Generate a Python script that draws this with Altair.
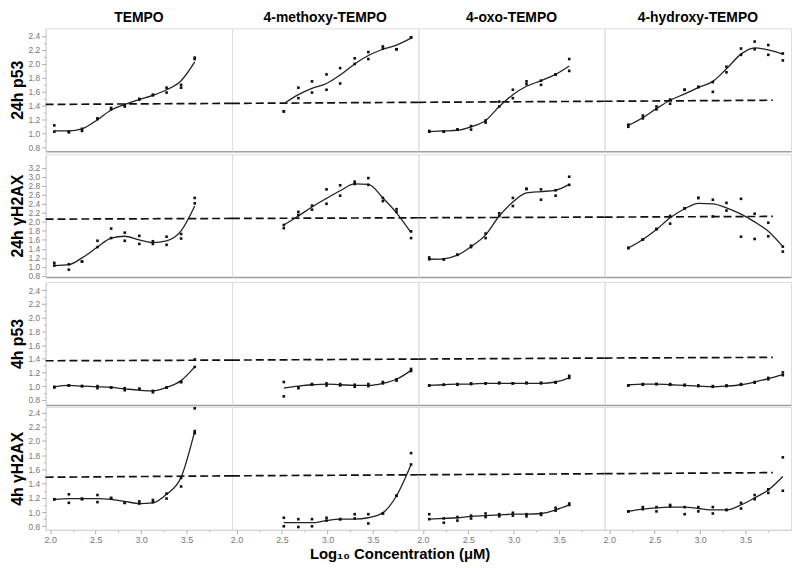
import altair as alt
import pandas as pd

FONT = "Liberation Sans"
COLUMNS = ["TEMPO", "4-methoxy-TEMPO", "4-oxo-TEMPO", "4-hydroxy-TEMPO"]
ROWS = ["24h p53", "24h γH2AX", "4h p53", "4h γH2AX"]
X_TITLE = "Log₁₀ Concentration (μM)"

# major ticks are labelled, minor ones are drawn short without a label
X_TICKS = [2.0, 2.25, 2.5, 2.75, 3.0, 3.25, 3.5, 3.75]
Y_TICKS_STD = [0.8, 0.9, 1.0, 1.1, 1.2, 1.3, 1.4, 1.5, 1.6, 1.7, 1.8, 1.9,
               2.0, 2.1, 2.2, 2.3, 2.4]
Y_TICKS_H2AX24 = [0.8, 1.0, 1.2, 1.4, 1.6, 1.8, 2.0, 2.2, 2.4, 2.6, 2.8, 3.0, 3.2]
Y_DOMAINS = [[0.75, 2.51], [0.775, 3.5], [0.725, 2.52], [0.75, 2.48]]

DOSE_TEMPO = [2.045, 2.205, 2.35, 2.52, 2.67, 2.82, 2.98, 3.13, 3.28, 3.44, 3.59]
DOSE_METHOXY = [2.52, 2.68, 2.83, 2.99, 3.14, 3.30, 3.45, 3.61, 3.76, 3.92]
DOSE_OXO = [2.07, 2.23, 2.38, 2.53, 2.69, 2.84, 2.99, 3.14, 3.30, 3.46, 3.61]
DOSE_HYDROXY = [2.21, 2.37, 2.52, 2.67, 2.83, 2.98, 3.14, 3.29, 3.45, 3.60, 3.75, 3.91]

# dashed threshold line, values at the panel borders (left to right)
THR_P53_24 = [1.42, 1.435, 1.45, 1.465, 1.48]
THR_H2AX_24 = [2.06, 2.075, 2.09, 2.105, 2.12]
THR_P53_4 = [1.37, 1.38, 1.395, 1.41, 1.42]
THR_H2AX_4 = [1.49, 1.51, 1.525, 1.54, 1.555]

# ---- 24h p53 ----
P53_24_TEMPO_A = [1.12, 1.02, 1.07, 1.22, 1.37, 1.41, 1.50, 1.56, 1.66, 1.70, 2.09]
P53_24_TEMPO_B = [1.03, 1.03, 1.04, 1.21, 1.35, 1.39, 1.49, 1.55, 1.59, 1.66, 2.07]
P53_24_TEMPO_FIT = [1.04, 1.04, 1.07, 1.20, 1.34, 1.42, 1.49, 1.55, 1.63, 1.76, 2.03]

P53_24_METHOXY_A = [1.32, 1.66, 1.75, 1.85, 1.94, 2.08, 2.17, 2.25, 2.21, 2.38]
P53_24_METHOXY_B = [1.32, 1.51, 1.59, 1.63, 1.72, 2.00, 2.07, 2.22, 2.21, 2.38]
P53_24_METHOXY_FIT = [1.43, 1.56, 1.65, 1.72, 1.84, 2.00, 2.12, 2.21, 2.27, 2.37]

P53_24_OXO_A = [1.03, 1.03, 1.06, 1.11, 1.19, 1.46, 1.63, 1.75, 1.76, 1.85, 2.07]
P53_24_OXO_B = [1.04, 1.03, 1.06, 1.06, 1.16, 1.39, 1.51, 1.71, 1.70, 1.85, 1.90]
P53_24_OXO_FIT = [1.03, 1.04, 1.05, 1.10, 1.19, 1.39, 1.56, 1.68, 1.76, 1.85, 1.97]

P53_24_HYDROXY_A = [1.13, 1.26, 1.39, 1.49, 1.63, 1.67, 1.74, 1.96, 2.22, 2.32, 2.27, 2.15]
P53_24_HYDROXY_B = [1.10, 1.22, 1.35, 1.43, 1.63, 1.67, 1.60, 1.88, 2.13, 2.21, 2.13, 2.05]
P53_24_HYDROXY_FIT = [1.12, 1.23, 1.36, 1.48, 1.57, 1.66, 1.75, 1.93, 2.14, 2.23, 2.20, 2.14]

# ---- 24h gH2AX ----
H2AX_24_TEMPO_A = [1.09, 1.06, 1.12, 1.58, 1.85, 1.76, 1.69, 1.57, 1.67, 1.73, 2.53]
H2AX_24_TEMPO_B = [1.03, 0.94, 1.12, 1.44, 1.64, 1.58, 1.51, 1.51, 1.49, 1.63, 2.41]
H2AX_24_TEMPO_FIT = [1.03, 1.05, 1.20, 1.44, 1.64, 1.68, 1.60, 1.54, 1.58, 1.80, 2.35]

H2AX_24_METHOXY_A = [1.93, 2.22, 2.36, 2.72, 2.81, 2.89, 2.97, 2.53, 2.28, 1.79]
H2AX_24_METHOXY_B = [1.86, 2.15, 2.27, 2.40, 2.58, 2.84, 2.82, 2.46, 2.22, 1.64]
H2AX_24_METHOXY_FIT = [1.93, 2.13, 2.33, 2.52, 2.69, 2.84, 2.83, 2.53, 2.20, 1.76]

H2AX_24_OXO_A = [1.21, 1.17, 1.27, 1.47, 1.74, 2.19, 2.53, 2.73, 2.72, 2.70, 3.00]
H2AX_24_OXO_B = [1.17, 1.17, 1.27, 1.44, 1.64, 2.13, 2.35, 2.73, 2.49, 2.58, 2.82]
H2AX_24_OXO_FIT = [1.17, 1.18, 1.26, 1.45, 1.71, 2.13, 2.44, 2.64, 2.67, 2.70, 2.83]

H2AX_24_HYDROXY_A = [1.42, 1.61, 1.84, 2.13, 2.30, 2.53, 2.49, 2.42, 2.51, 2.18, 1.98, 1.45]
H2AX_24_HYDROXY_B = [1.42, 1.61, 1.84, 1.96, 2.30, 2.53, 2.12, 2.25, 1.67, 1.62, 1.68, 1.34]
H2AX_24_HYDROXY_FIT = [1.42, 1.61, 1.83, 2.09, 2.29, 2.41, 2.40, 2.31, 2.17, 2.00, 1.79, 1.45]

# ---- 4h p53 ----
P53_4_TEMPO_A = [0.99, 1.01, 1.00, 1.00, 0.98, 0.97, 0.96, 0.93, 0.98, 1.06, 1.39]
P53_4_TEMPO_B = [0.98, 1.01, 1.00, 0.97, 0.98, 0.94, 0.96, 0.91, 0.98, 1.06, 1.28]
P53_4_TEMPO_FIT = [0.99, 1.01, 1.00, 0.99, 0.98, 0.96, 0.94, 0.93, 0.98, 1.08, 1.28]

P53_4_METHOXY_A = [1.06, 0.98, 1.02, 1.04, 1.01, 0.99, 1.00, 1.04, 1.10, 1.25]
P53_4_METHOXY_B = [0.85, 0.97, 1.03, 1.01, 1.03, 1.02, 1.03, 1.06, 1.08, 1.22]
P53_4_METHOXY_FIT = [0.97, 1.00, 1.02, 1.03, 1.02, 1.01, 1.01, 1.04, 1.10, 1.23]

P53_4_OXO_A = [1.01, 1.02, 1.03, 1.04, 1.04, 1.05, 1.04, 1.04, 1.05, 1.05, 1.15]
P53_4_OXO_B = [1.01, 1.02, 1.02, 1.03, 1.04, 1.04, 1.04, 1.05, 1.04, 1.06, 1.12]
P53_4_OXO_FIT = [1.01, 1.02, 1.03, 1.03, 1.04, 1.04, 1.04, 1.04, 1.04, 1.06, 1.12]

P53_4_HYDROXY_A = [1.01, 1.03, 1.03, 1.02, 1.02, 1.01, 1.00, 1.00, 1.02, 1.06, 1.12, 1.20]
P53_4_HYDROXY_B = [1.01, 1.02, 1.03, 1.03, 1.01, 1.00, 0.99, 1.01, 1.03, 1.05, 1.10, 1.16]
P53_4_HYDROXY_FIT = [1.02, 1.03, 1.03, 1.02, 1.01, 1.00, 0.99, 1.00, 1.02, 1.06, 1.11, 1.17]

# ---- 4h gH2AX ----
H2AX_4_TEMPO_A = [1.18, 1.25, 1.19, 1.24, 1.20, 1.13, 1.15, 1.17, 1.26, 1.48, 2.14]
H2AX_4_TEMPO_B = [1.18, 1.13, 1.18, 1.14, 1.19, 1.13, 1.12, 1.14, 1.19, 1.36, 2.11]
H2AX_4_TEMPO_EXTRA_X = [3.59]
H2AX_4_TEMPO_EXTRA_Y = [2.46]
H2AX_4_TEMPO_FIT = [1.18, 1.19, 1.19, 1.19, 1.18, 1.15, 1.12, 1.13, 1.25, 1.49, 2.14]

H2AX_4_METHOXY_A = [0.92, 0.90, 0.90, 0.92, 0.90, 0.97, 0.97, 0.98, 1.23, 1.83]
H2AX_4_METHOXY_B = [0.80, 0.79, 0.80, 0.88, 0.90, 0.91, 0.84, 0.98, 1.23, 1.67]
H2AX_4_METHOXY_FIT = [0.85, 0.85, 0.85, 0.88, 0.90, 0.90, 0.92, 0.99, 1.23, 1.67]

H2AX_4_OXO_A = [0.97, 0.91, 0.93, 0.95, 0.98, 0.97, 0.99, 0.97, 0.98, 1.06, 1.12]
H2AX_4_OXO_B = [0.90, 0.85, 0.88, 0.91, 0.93, 0.94, 0.95, 0.94, 0.96, 1.02, 1.10]
H2AX_4_OXO_FIT = [0.90, 0.91, 0.92, 0.94, 0.95, 0.96, 0.97, 0.97, 0.98, 1.03, 1.10]

H2AX_4_HYDROXY_A = [1.01, 1.07, 1.07, 1.10, 1.07, 1.07, 1.07, 1.03, 1.13, 1.24, 1.32, 1.77]
H2AX_4_HYDROXY_B = [1.01, 1.04, 1.01, 1.08, 0.97, 1.01, 0.98, 1.03, 1.05, 1.18, 1.27, 1.30]
H2AX_4_HYDROXY_FIT = [1.01, 1.04, 1.06, 1.07, 1.07, 1.05, 1.03, 1.03, 1.10, 1.20, 1.31, 1.50]

DOSES = [DOSE_TEMPO, DOSE_METHOXY, DOSE_OXO, DOSE_HYDROXY]
THRESH = [THR_P53_24, THR_H2AX_24, THR_P53_4, THR_H2AX_4]
Y_TICKS = [Y_TICKS_STD, Y_TICKS_H2AX24, Y_TICKS_STD, Y_TICKS_STD]
DATA = [
    [(P53_24_TEMPO_A, P53_24_TEMPO_B, P53_24_TEMPO_FIT),
     (P53_24_METHOXY_A, P53_24_METHOXY_B, P53_24_METHOXY_FIT),
     (P53_24_OXO_A, P53_24_OXO_B, P53_24_OXO_FIT),
     (P53_24_HYDROXY_A, P53_24_HYDROXY_B, P53_24_HYDROXY_FIT)],
    [(H2AX_24_TEMPO_A, H2AX_24_TEMPO_B, H2AX_24_TEMPO_FIT),
     (H2AX_24_METHOXY_A, H2AX_24_METHOXY_B, H2AX_24_METHOXY_FIT),
     (H2AX_24_OXO_A, H2AX_24_OXO_B, H2AX_24_OXO_FIT),
     (H2AX_24_HYDROXY_A, H2AX_24_HYDROXY_B, H2AX_24_HYDROXY_FIT)],
    [(P53_4_TEMPO_A, P53_4_TEMPO_B, P53_4_TEMPO_FIT),
     (P53_4_METHOXY_A, P53_4_METHOXY_B, P53_4_METHOXY_FIT),
     (P53_4_OXO_A, P53_4_OXO_B, P53_4_OXO_FIT),
     (P53_4_HYDROXY_A, P53_4_HYDROXY_B, P53_4_HYDROXY_FIT)],
    [(H2AX_4_TEMPO_A, H2AX_4_TEMPO_B, H2AX_4_TEMPO_FIT),
     (H2AX_4_METHOXY_A, H2AX_4_METHOXY_B, H2AX_4_METHOXY_FIT),
     (H2AX_4_OXO_A, H2AX_4_OXO_B, H2AX_4_OXO_FIT),
     (H2AX_4_HYDROXY_A, H2AX_4_HYDROXY_B, H2AX_4_HYDROXY_FIT)],
]

X_DOMAIN = [1.95, 4.0]
PANEL_W = 188
PANEL_H = 124

Y_MINOR = "round(datum.value * 10) % 2 != 0"
X_MINOR = "round(datum.value * 4) % 2 != 0"


def make_panel(r, c):
    dose = DOSES[c]
    a, b, fit = DATA[r][c]
    xs = list(dose) + list(dose)
    ys = list(a) + list(b)
    if r == 3 and c == 0:
        xs += H2AX_4_TEMPO_EXTRA_X
        ys += H2AX_4_TEMPO_EXTRA_Y
    pts = pd.DataFrame({"x": xs, "y": ys})
    fit_df = pd.DataFrame({"x": dose, "y": fit})
    thr = THRESH[r]
    x_end = 3.8 if c == 3 else X_DOMAIN[1]
    thr_df = pd.DataFrame({"x": [X_DOMAIN[0]], "x2": [x_end],
                           "y": [thr[c]], "y2": [thr[c + 1]]})

    xs_scale = alt.Scale(domain=X_DOMAIN, nice=False, zero=False)
    ys_scale = alt.Scale(domain=Y_DOMAINS[r], nice=False, zero=False)

    if r == 3:
        x_axis = alt.Axis(values=X_TICKS, title=None, grid=False,
                          labelExpr=f"{X_MINOR} ? '' : format(datum.value, '.1f')",
                          labelFontSize=9, labelColor="#777", labelFont=FONT,
                          tickColor="#aaa",
                          tickSize={"condition": {"test": X_MINOR, "value": 2}, "value": 4},
                          labelPadding=2, domainColor="#d0d0d0", labelFlush=False,
                          labelOverlap=False)
    else:
        x_axis = alt.Axis(labels=False, ticks=False, title=None, grid=False,
                          domainColor="#a0a0a0", domainWidth=1.5)
    if c == 0:
        y_axis = alt.Axis(values=Y_TICKS[r], title=ROWS[r], grid=False,
                          labelExpr=f"{Y_MINOR} ? '' : format(datum.value, '.1f')",
                          labelFontSize=8.5, labelColor="#777", labelFont=FONT,
                          tickColor="#aaa",
                          tickSize={"condition": {"test": Y_MINOR, "value": 2}, "value": 4},
                          labelPadding=2, domainColor="#d0d0d0", labelOverlap=False,
                          labelFlush=False, titleFont=FONT, titleFontSize=16,
                          titleFontWeight="bold", titleColor="#000",
                          titlePadding=3)
    else:
        y_axis = None

    xenc = alt.X("x:Q", scale=xs_scale, axis=x_axis)
    yenc = alt.Y("y:Q", scale=ys_scale, axis=y_axis)

    rule = alt.Chart(thr_df).mark_rule(color="#111", strokeWidth=1.7,
                                       strokeDash=[8, 4]).encode(
        x=xenc, x2="x2:Q", y=yenc, y2="y2:Q")
    line = alt.Chart(fit_df).mark_line(color="#222", strokeWidth=1.3,
                                       interpolate="monotone").encode(x=xenc, y=yenc)
    dots = alt.Chart(pts).mark_square(size=7, color="#111", opacity=1).encode(
        x=xenc, y=yenc)
    layer = alt.layer(rule, line, dots).properties(width=PANEL_W, height=PANEL_H)
    if r == 0:
        layer = layer.properties(title=alt.TitleParams(
            COLUMNS[c], fontSize=14, fontWeight="bold", font=FONT, color="#000",
            anchor="middle", offset=3))
    return layer


rows = []
for r in range(4):
    rows.append(alt.hconcat(*[make_panel(r, c) for c in range(4)], spacing=0,
                            bounds="flush"))

chart = alt.vconcat(*rows, spacing=0).properties(
    padding=0,
    title=alt.TitleParams(X_TITLE, orient="bottom", anchor="middle", fontSize=15,
                          fontWeight="bold", font=FONT, color="#000", offset=2),
).configure_view(stroke="#e4e4e4", strokeWidth=1).configure(font=FONT)

chart.save("out.html", embed_options={"renderer": "svg", "actions": False})
